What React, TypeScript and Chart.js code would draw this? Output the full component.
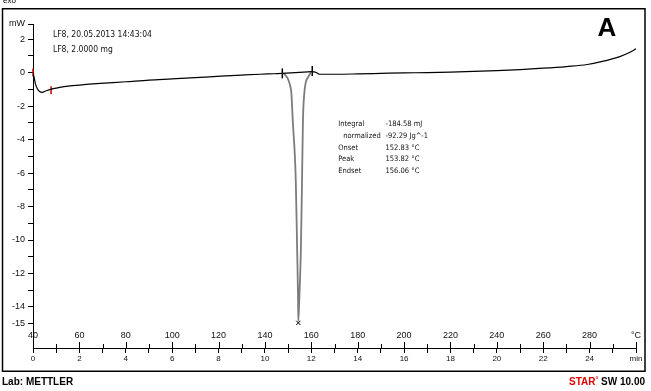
import { useEffect, useRef } from 'react';
import { Chart, registerables } from 'chart.js';
Chart.register(...registerables);

// time axis (min) and heat flow (mW)
const timeMin = [0, 0.05, 0.1, 0.18, 0.3, 0.4, 0.55, 0.75, 1.1, 1.6, 2.2, 2.9, 4, 5, 6, 7.2, 8.1, 9, 9.8, 10.4,
  10.75, 10.88, 11.0, 11.09, 11.14, 11.2, 11.33, 11.39, 11.43,
  11.44, 11.48, 11.55, 11.6, 11.64, 11.7, 11.76, 11.87, 12.04,
  12.17, 12.35, 13, 14, 15, 16, 17, 18, 19, 20, 21, 22, 23, 23.9, 24.5, 25.33, 25.7, 26];
const heatFlow = [0, -0.3, -0.65, -0.95, -1.15, -1.18, -1.1, -1.0, -0.9, -0.8, -0.72, -0.65, -0.55, -0.45, -0.38, -0.29, -0.21, -0.15, -0.1, -0.07,
  -0.05, -0.15, -0.4, -0.8, -1.22, -2.84, -6.42, -10.6, -13.58,
  -14.85, -13.58, -10.6, -6.42, -2.84, -1.22, -0.6, -0.25, 0.05,
  0.03, -0.1, -0.1, -0.08, -0.05, -0.02, 0, 0.03, 0.07, 0.12, 0.18, 0.26, 0.36, 0.48, 0.65, 0.97, 1.18, 1.42];

const peakStart = 10.75;
const peakEnd = 12.04;
const baselineX = [10.75, 12.04];
const baselineY = [-0.05, 0.05];
const limitMarkersX = [10.75, 12.04];
const limitMarkersY = [-0.05, 0.1];
const redMarkersX = [0, 0.78];
const redMarkersY = [0, -1.05];
const peakMarkerX = [11.44];
const peakMarkerY = [-14.95];

const tempTickLabels = ['40', '60', '80', '100', '120', '140', '160', '180', '200', '220', '240', '260', '280', '°C'];
const yLabelValues = [2, 0, -2, -4, -6, -8, -10, -12, -14, -15];
const sampleInfo = ['LF8, 20.05.2013 14:43:04', 'LF8, 2.0000 mg'];
const resultNames = ['Integral', '  normalized', 'Onset', 'Peak', 'Endset'];
const resultValues = ['-184.58 mJ', '-92.29 Jg^-1', '152.83 °C', '153.82 °C', '156.06 °C'];

const Y_MIN = -16.45;
const Y_MAX = 2.9;
const X_MIN = 0;
const X_MAX = 26;

const FONT = '"Liberation Sans", Arial, sans-serif';
const NARROW = '"Liberation Sans Narrow", "DejaVu Sans Condensed", "Liberation Sans", sans-serif';

const decor = {
  id: 'decor',
  afterDraw(chart: any) {
    const { ctx } = chart;
    const xs = chart.scales.x;
    const ys = chart.scales.y;
    ctx.save();
    // frame
    ctx.strokeStyle = '#000';
    ctx.lineWidth = 1.5;
    ctx.strokeRect(2.5, 8.75, 642.5, 362.5);
    // upward ticks on x axis
    ctx.lineWidth = 1;
    const axisY = xs.top;
    ctx.beginPath();
    xs.ticks.forEach((t: any) => {
      if (t.value === 0) return;
      const px = Math.round(xs.getPixelForValue(t.value)) + 0.5;
      const len = t.value % 2 === 0 ? 6 : 4;
      ctx.moveTo(px, axisY - len);
      ctx.lineTo(px, axisY);
    });
    ctx.stroke();
    // temperature labels
    ctx.fillStyle = '#111';
    ctx.font = '9px ' + FONT;
    ctx.textAlign = 'center';
    ctx.textBaseline = 'middle';
    tempTickLabels.forEach((lab, i) => {
      ctx.fillText(lab, xs.getPixelForValue(i * 2), axisY - 12);
    });
    // sample info
    ctx.textAlign = 'left';
    ctx.font = '8.5px ' + NARROW;
    const infoX = xs.getPixelForValue(0.86);
    sampleInfo.forEach((s, i) => ctx.fillText(s, infoX, ys.getPixelForValue(2.24) + i * 15));
    // results
    ctx.font = '7.5px ' + NARROW;
    const rx = xs.getPixelForValue(13.16);
    const vx = xs.getPixelForValue(15.2);
    const ry = ys.getPixelForValue(-3.1);
    resultNames.forEach((s, i) => {
      ctx.fillText(s.trim(), rx + (s.startsWith(' ') ? 5 : 0), ry + i * 11.6);
      ctx.fillText(resultValues[i], vx, ry + i * 11.6);
    });
    // big A
    ctx.font = 'bold 26px ' + FONT;
    ctx.textAlign = 'center';
    ctx.fillStyle = '#000';
    ctx.fillText('A', 607, 29);
    // exo
    ctx.font = '8px ' + FONT;
    ctx.textAlign = 'left';
    ctx.fillText('exo', 3, 1);
    // footer
    ctx.font = 'bold 10px ' + FONT;
    ctx.fillText('Lab: METTLER', 2, 382);
    ctx.textAlign = 'right';
    const tail = ' SW 10.00';
    const tailW = ctx.measureText(tail).width;
    ctx.fillText(tail, 645, 382);
    ctx.font = 'bold 7px ' + FONT;
    const degW = ctx.measureText('°').width;
    ctx.fillStyle = '#e00000';
    ctx.fillText('°', 645 - tailW, 380);
    ctx.font = 'bold 10px ' + FONT;
    ctx.fillText('STAR', 645 - tailW - degW, 382);
    ctx.restore();
  },
};

export default function App() {
  const ref = useRef<HTMLCanvasElement | null>(null);
  useEffect(() => {
    if (!ref.current) return;
    const mainData = timeMin.map((x, i) => ({ x, y: heatFlow[i] }));
    const inPeak = (c: any) => c.p0.parsed.x >= peakStart && c.p1.parsed.x <= peakEnd;
    const chart = new Chart(ref.current, {
      type: 'line',
      data: {
        datasets: [
          {
            data: baselineX.map((x, i) => ({ x, y: baselineY[i] })),
            borderColor: '#000',
            borderWidth: 1.2,
            pointRadius: 0,
          },
          {
            data: mainData,
            borderColor: '#000',
            borderWidth: 1.2,
            pointRadius: 0,
            cubicInterpolationMode: 'monotone',
            segment: {
              borderColor: (c: any) => (inPeak(c) ? '#7c7c7c' : '#000'),
              borderWidth: (c: any) => (inPeak(c) ? 1.8 : 1.2),
            },
          },
          {
            data: limitMarkersX.map((x, i) => ({ x, y: limitMarkersY[i] })),
            showLine: false,
            pointStyle: 'line',
            rotation: 90,
            pointRadius: 5,
            borderColor: '#000',
            borderWidth: 1.5,
          },
          {
            data: redMarkersX.map((x, i) => ({ x, y: redMarkersY[i] })),
            showLine: false,
            clip: false,
            pointStyle: 'line',
            rotation: 90,
            pointRadius: 4,
            borderColor: '#d00000',
            borderWidth: 1.5,
          },
          {
            data: peakMarkerX.map((x, i) => ({ x, y: peakMarkerY[i] })),
            showLine: false,
            pointStyle: 'crossRot',
            pointRadius: 3,
            borderColor: '#000',
            borderWidth: 1,
          },
        ],
      },
      options: {
        animation: false,
        responsive: false,
        events: [],
        layout: { padding: { top: 24, right: 15, left: 0, bottom: 0 } },
        plugins: { legend: { display: false }, tooltip: { enabled: false } },
        scales: {
          x: {
            type: 'linear',
            min: X_MIN,
            max: X_MAX,
            afterFit: (s: any) => { s.height = 43; },
            ticks: {
              stepSize: 1,
              autoSkip: false,
              maxRotation: 0,
              padding: 1,
              color: '#111',
              font: { family: FONT, size: 8 },
              callback: (v: any) => (v === X_MAX ? 'min' : v % 2 === 0 ? String(v) : ''),
            },
            grid: { drawOnChartArea: false, tickLength: 5, color: '#000' },
            border: { display: true, color: '#000', width: 1 },
          },
          y: {
            type: 'linear',
            min: Y_MIN,
            max: Y_MAX,
            afterFit: (s: any) => { s.width = 33; },
            afterBuildTicks: (s: any) => {
              const vals: number[] = [Y_MAX];
              for (let v = 2; v >= -15; v--) vals.push(v);
              s.ticks = vals.map((value) => ({ value }));
            },
            ticks: {
              autoSkip: false,
              padding: 3,
              color: '#111',
              font: { family: FONT, size: 9 },
              callback: (v: any) => (v === Y_MAX ? 'mW' : yLabelValues.includes(v) ? String(v) : ''),
            },
            grid: { drawOnChartArea: false, tickLength: 5, color: '#000' },
            border: { display: true, color: '#000', width: 1 },
          },
        },
      },
      plugins: [decor],
    } as any);
    return () => chart.destroy();
  }, []);
  return (
    <div style={{ position: 'fixed', left: 0, top: 0, width: 651, height: 391, background: '#fff' }}>
      <canvas ref={ref} width={651} height={391} />
    </div>
  );
}
